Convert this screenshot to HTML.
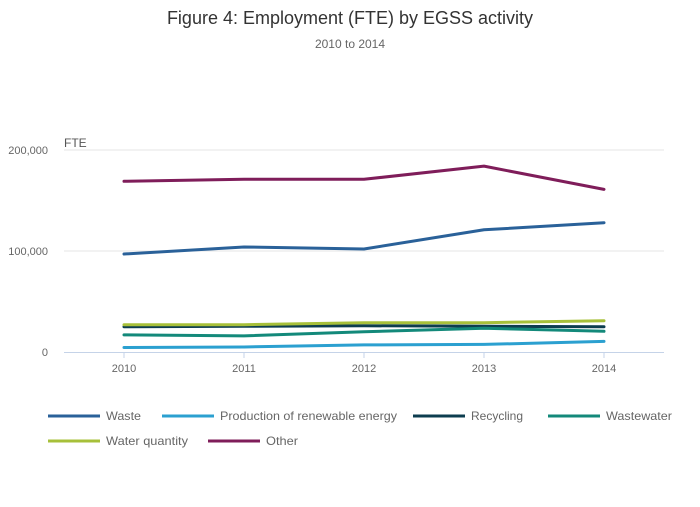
<!DOCTYPE html>
<html><head><meta charset="utf-8"><style>
body{margin:0;background:#fff;font-family:"Liberation Sans",sans-serif;}
</style></head><body>
<svg id="chart" width="700" height="502" xmlns="http://www.w3.org/2000/svg">
<text x="350" y="24" text-anchor="middle" font-size="18" fill="#333">Figure 4: Employment (FTE) by EGSS activity</text>
<text x="350" y="48" text-anchor="middle" font-size="12" fill="#666">2010 to 2014</text>
<text x="64" y="147" font-size="12" fill="#555">FTE</text>
<g id="grid"></g><g id="lines"></g><g id="legend"></g>
</svg>
<script>
const years=["2010","2011","2012","2013","2014"];
const yTicks=[0,100000,200000];
const yTickLabels=["0","100,000","200,000"];
const seriesNames=["Waste","Production of renewable energy","Recycling","Wastewater","Water quantity","Other"];
const seriesColors=["#2a6199","#2ba0d0","#0d3d4f","#13897a","#a7c03a","#7f1d5a"];
const waste=[97000,104000,102000,121000,128000];
const renewable=[4500,5000,7000,7500,10500];
const recycling=[25000,25500,26000,25500,25000];
const wastewater=[17000,16000,20000,23500,20500];
const waterQuantity=[27000,27000,29000,29000,31000];
const other=[169000,171000,171000,184000,161000];
const seriesData=[waste,renewable,recycling,wastewater,waterQuantity,other];
const NS="http://www.w3.org/2000/svg";
const x=i=>124+i*120;
const y=v=>352-v*0.00101;
function mk(t,a,p){const e=document.createElementNS(NS,t);for(const k in a)e.setAttribute(k,a[k]);p.appendChild(e);return e;}
const grid=document.getElementById('grid');
yTicks.forEach((v,i)=>{
 if(v>0){const l=mk('line',{x1:64,x2:664,y1:y(v),y2:y(v),stroke:'#e6e6e6','stroke-width':1},grid);
 
 }
 const t=mk('text',{x:48,y:y(v)+4,'text-anchor':'end','font-size':11,fill:'#666'},grid);t.textContent=yTickLabels[i];
 
 
});
const ax=mk('line',{x1:64,x2:664,y1:352.5,y2:352.5,stroke:'#c5d3e8','stroke-width':1},grid);


years.forEach((yr,i)=>{
 const tk=mk('line',{x1:x(i),x2:x(i),y1:352,y2:358,stroke:'#c5d3e8'},grid);
 
 
 const t=mk('text',{x:x(i),y:372,'text-anchor':'middle','font-size':11,fill:'#666'},grid);t.textContent=yr;
 
 
});
const lines=document.getElementById('lines');
seriesData.forEach((d,s)=>{
 const p=mk('polyline',{points:d.map((v,i)=>x(i)+','+y(v)).join(' '),fill:'none',stroke:seriesColors[s],'stroke-width':3,'stroke-linejoin':'round','stroke-linecap':'round'},lines);
 
 
});
const legend=document.getElementById('legend');
const legPos=[[48,416],[162,416],[413,416],[548,416],[48,441],[208,441]];
const legTextLen=[35,177,52,66,82,32];
seriesNames.forEach((n,s)=>{
 const g=mk('g',{},legend);
 
 
 const [lx,ly]=legPos[s];
 mk('line',{x1:lx,x2:lx+52,y1:ly,y2:ly,stroke:seriesColors[s],'stroke-width':3},g);
 const t=mk('text',{x:lx+58,y:ly+4,'font-size':12,fill:'#666',textLength:legTextLen[s],lengthAdjust:'spacingAndGlyphs'},g);t.textContent=n;
});
</script>
</body></html>
